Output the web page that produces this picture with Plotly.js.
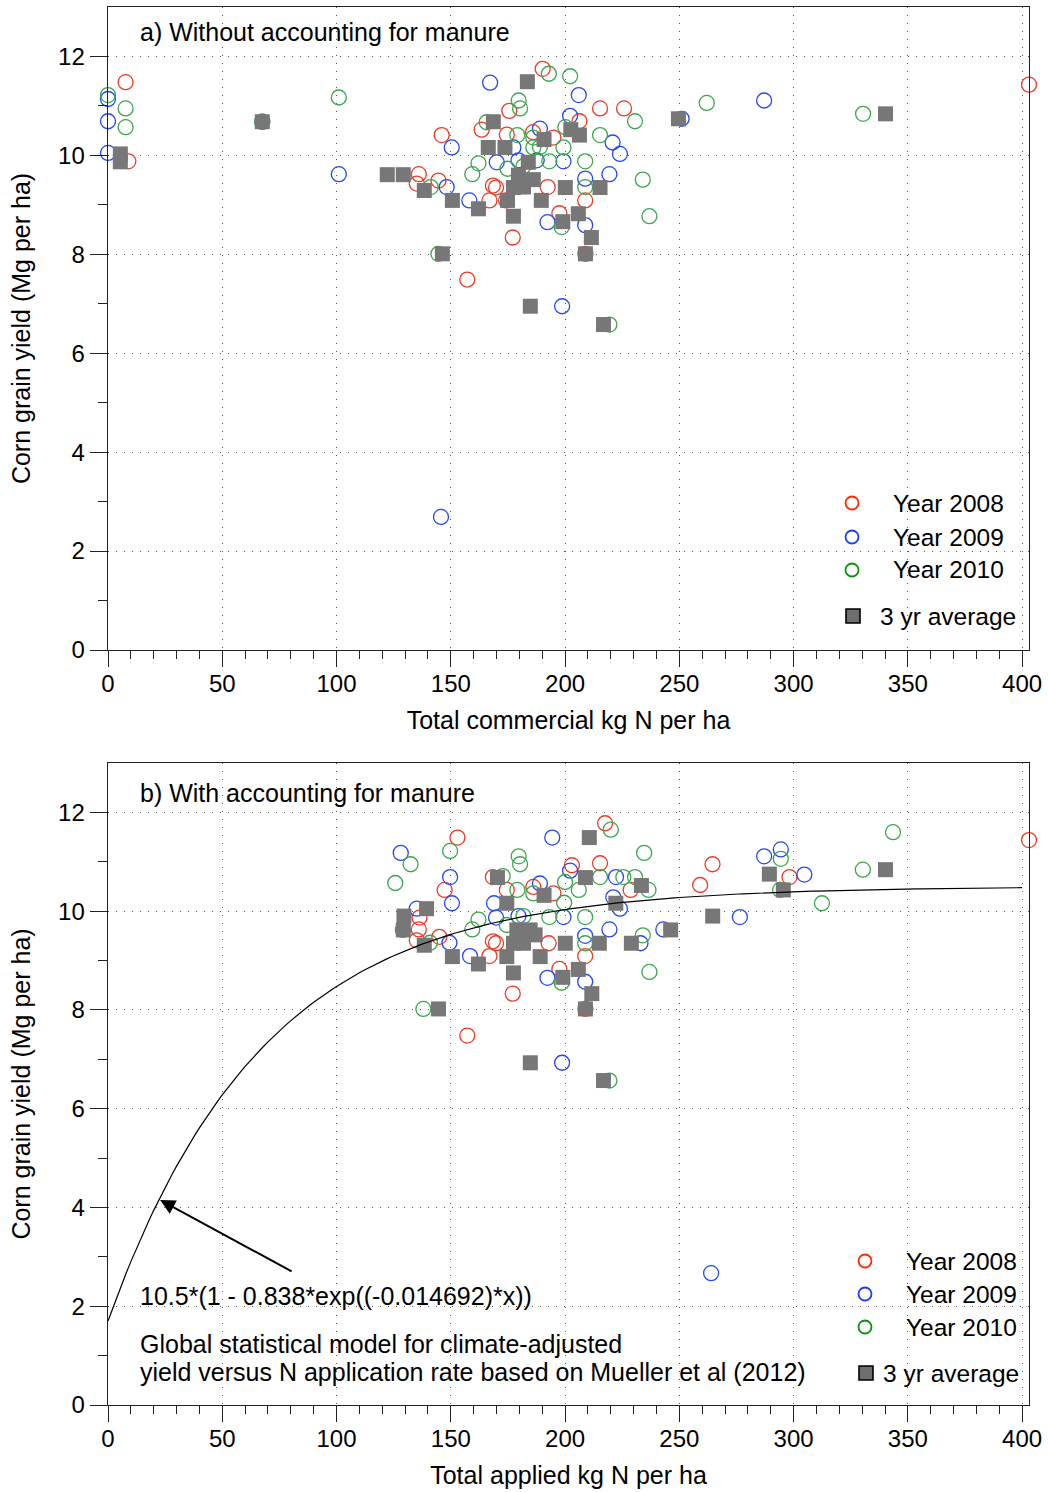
<!DOCTYPE html>
<html>
<head>
<meta charset="utf-8">
<script src="https://cdn.plot.ly/plotly-3.0.1.min.js"></script>
<style>html,body{margin:0;padding:0;background:#fff;}#chart{width:1048px;height:1492px;}</style>
</head>
<body>
<div id="chart"></div>
<script>
// ---------- Panel a: without accounting for manure ----------
const x08a = [7.7, 8.9, 190.2, 175.6, 215.3, 225.8, 206.3, 163.5, 186, 194.9, 146, 174.5, 136, 135.1, 144.6, 166.9, 168.4, 169.8, 174.2, 192.4, 208.8, 197.5, 177.1, 208.9, 157.2, 403];
const y08a = [11.48, 9.88, 11.75, 10.9, 10.95, 10.95, 10.69, 10.52, 10.47, 10.36, 10.41, 10.42, 9.62, 9.43, 9.49, 9.09, 9.39, 9.35, 9.09, 9.36, 9.09, 8.83, 8.34, 8.01, 7.49, 11.43];
const x09a = [0, 0, 0, 101, 167.2, 206, 202.2, 189, 220.8, 224, 150.4, 177.4, 170.1, 179.6, 187.6, 199.3, 219.4, 208.8, 148.2, 158.1, 192.3, 208.8, 198.7, 251, 287.1, 145.7, 67.5];
const y09a = [11.14, 10.69, 10.05, 9.62, 11.47, 11.22, 10.8, 10.54, 10.26, 10.03, 10.16, 10.16, 9.86, 9.9, 9.9, 9.88, 9.62, 9.53, 9.36, 9.09, 8.65, 8.59, 6.95, 10.74, 11.11, 2.69, 10.68];
const x10a = [0, 7.7, 7.7, 101, 192.9, 202.2, 179.7, 180.3, 230.6, 165.7, 200.1, 215.3, 179.1, 186.1, 186.1, 189, 199.3, 162.1, 159.4, 174.8, 181.8, 193.1, 208.8, 234, 208.8, 141.2, 144.6, 198.5, 219.4, 236.9, 262, 330.4, 67.5];
const y10a = [11.22, 10.95, 10.57, 11.17, 11.65, 11.6, 11.11, 10.95, 10.69, 10.67, 10.57, 10.41, 10.41, 10.36, 10.16, 10.17, 10.16, 9.84, 9.62, 9.73, 9.78, 9.88, 9.88, 9.51, 9.36, 9.36, 8.01, 8.55, 6.58, 8.77, 11.06, 10.84, 10.68];
const xAvgA = [5.4, 5.4, 67.5, 122.2, 129.2, 138.4, 146.3, 150.7, 162.1, 166.4, 168.6, 173.7, 174.8, 177.4, 177.4, 179.6, 181.8, 183.5, 183.9, 186.1, 189.6, 190.8, 199, 200.1, 202.5, 205.8, 206.3, 208.9, 211.5, 215.3, 184.8, 216.8, 249.6, 340.2];
const yAvgA = [10.03, 9.87, 10.68, 9.61, 9.61, 9.29, 8.01, 9.09, 8.92, 10.16, 10.68, 10.16, 9.09, 8.77, 9.35, 9.6, 9.36, 11.49, 9.86, 9.51, 9.09, 10.32, 8.66, 9.35, 10.52, 8.82, 10.41, 8.01, 8.34, 9.35, 6.95, 6.58, 10.74, 10.84];

// ---------- Panel b: with accounting for manure ----------
const x08b = [217.5, 152.9, 147.3, 168.4, 203, 215.3, 228.7, 186.1, 194.9, 174.5, 136.3, 136, 135.1, 145, 168.4, 169.8, 166.9, 192.8, 208.8, 197.5, 177.1, 208.9, 157.2, 403, 264.5, 259.1, 298.2];
const y08b = [11.78, 11.49, 10.43, 10.69, 10.93, 10.97, 10.43, 10.49, 10.36, 10.43, 9.87, 9.63, 9.41, 9.48, 9.39, 9.35, 9.09, 9.35, 9.09, 8.83, 8.33, 8.02, 7.48, 11.44, 10.95, 10.53, 10.69];
const x09b = [194.4, 128.1, 149.7, 150.5, 202.2, 222.3, 189, 168.9, 221.1, 224, 135.1, 149.4, 158.4, 169.8, 179.6, 199.3, 208.8, 219.4, 233, 192.3, 208.8, 198.7, 287.1, 294.4, 304.7, 276.5, 243, 263.9];
const y09b = [11.49, 11.18, 10.69, 10.16, 10.82, 10.69, 10.56, 10.16, 10.28, 10.05, 10.05, 9.36, 9.09, 9.87, 9.9, 9.88, 9.5, 9.63, 9.35, 8.65, 8.57, 6.93, 11.11, 11.25, 10.74, 9.88, 9.63, 2.67];
const x10b = [220, 149.7, 132.4, 179.7, 180.3, 125.7, 172.7, 215.3, 225.5, 230.6, 234.6, 200, 206, 186.1, 179.1, 199.6, 129, 140.9, 162.1, 159.4, 174.5, 181.8, 193.1, 208.8, 208.8, 234, 236.9, 138, 219.4, 343.5, 294.4, 330.3, 294.1, 312.4, 236.5, 198.5];
const y10b = [11.65, 11.22, 10.95, 11.11, 10.95, 10.57, 10.71, 10.69, 10.69, 10.69, 11.18, 10.59, 10.43, 10.36, 10.43, 10.17, 9.62, 9.36, 9.83, 9.63, 9.72, 9.9, 9.88, 9.88, 9.35, 9.51, 8.77, 8.02, 6.57, 11.6, 11.06, 10.84, 10.43, 10.16, 10.43, 8.55];
const xAvgB = [210.6, 170.4, 208.9, 233.4, 190.8, 174.5, 222.2, 139.4, 129.5, 129.2, 138.4, 150.7, 162.1, 178.9, 184.7, 186.9, 177.4, 181.8, 189.1, 174.5, 177.4, 200.1, 215, 229, 205.8, 199, 211.7, 208.9, 144.6, 184.8, 216.8, 289.4, 340.2, 295.5, 264.6, 246.2];
const yAvgB = [11.49, 10.68, 10.68, 10.52, 10.32, 10.16, 10.16, 10.05, 9.9, 9.62, 9.31, 9.08, 8.93, 9.62, 9.62, 9.52, 9.35, 9.35, 9.08, 9.08, 8.75, 9.35, 9.35, 9.35, 8.82, 8.66, 8.33, 8.02, 8.02, 6.93, 6.57, 10.75, 10.84, 10.43, 9.9, 9.62];

// Model curve parameters printed on the chart: 10.5*(1 - 0.838*exp((-0.014692)*x))
const modelA = 10.5, modelB = 0.838, modelK = -0.014692;
const modelX = [];
for (let v = 0; v <= 400; v += 2) modelX.push(v);
const modelY = modelX.map(v => modelA * (1 - modelB * Math.exp(modelK * v)));

const legendLabels = ['Year 2008', 'Year 2009', 'Year 2010', '3 yr average'];

const RED = '#f03a24', BLUE = '#2448f2', GREEN = '#3aa64e', GRAY = '#777777';
const LEG_RED = '#ff2a00', LEG_BLUE = '#1a3cff', LEG_GREEN = '#0a900a';
const FONT = 'Liberation Sans, Arial, Helvetica, sans-serif';

function circ(x, y, color, xa, ya) {
  return {type: 'scatter', mode: 'markers', x: x, y: y, xaxis: xa, yaxis: ya, showlegend: false,
    cliponaxis: false, hoverinfo: 'x+y',
    marker: {symbol: 'circle-open', size: 15, color: color, line: {width: 1.3, color: color}}};
}
function sq(x, y, xa, ya) {
  return {type: 'scatter', mode: 'markers', x: x, y: y, xaxis: xa, yaxis: ya, showlegend: false,
    cliponaxis: false, hoverinfo: 'x+y',
    marker: {symbol: 'square', size: 15, color: GRAY, line: {width: 0}}};
}

const traces = [
  circ(x08a, y08a, RED, 'x', 'y'),
  circ(x09a, y09a, BLUE, 'x', 'y'),
  circ(x10a, y10a, GREEN, 'x', 'y'),
  sq(xAvgA, yAvgA, 'x', 'y'),
  circ(x08b, y08b, RED, 'x2', 'y2'),
  circ(x09b, y09b, BLUE, 'x2', 'y2'),
  circ(x10b, y10b, GREEN, 'x2', 'y2'),
  sq(xAvgB, yAvgB, 'x2', 'y2'),
  {type: 'scatter', mode: 'lines', x: modelX, y: modelY, xaxis: 'x2', yaxis: 'y2', showlegend: false,
   line: {color: '#000', width: 1.2}, hoverinfo: 'skip'}
];

function xax(title, anchor) {
  return {
    range: [0, 403], anchor: anchor, domain: [0, 1],
    tickmode: 'linear', tick0: 0, dtick: 50, ticks: 'outside', ticklen: 16, tickwidth: 1, tickcolor: '#222',
    ticklabelstandoff: -4,
    minor: {dtick: 10, tick0: 0, ticks: 'outside', ticklen: 8, tickwidth: 1, tickcolor: '#222', showgrid: false},
    showgrid: true, gridcolor: '#555', gridwidth: 1, griddash: '1px,7px',
    zeroline: false, showline: true, linecolor: '#222', linewidth: 1.4, mirror: true,
    tickfont: {family: FONT, size: 24, color: '#000'},
    title: {text: title, font: {family: FONT, size: 25, color: '#000'}, standoff: 15}
  };
}
function yax(domain, anchor) {
  return {
    range: [0, 13], anchor: anchor, domain: domain,
    tickmode: 'array', tickvals: [0, 2, 4, 6, 8, 10, 12], ticks: 'outside', ticklen: 17, tickwidth: 1, tickcolor: '#222',
    minor: {tickvals: [1, 3, 5, 7, 9, 11], ticks: 'outside', ticklen: 9, tickwidth: 1, tickcolor: '#222', showgrid: false},
    showgrid: true, gridcolor: '#555', gridwidth: 1, griddash: '1px,7px',
    zeroline: false, showline: true, linecolor: '#222', linewidth: 1.4, mirror: true,
    tickfont: {family: FONT, size: 24, color: '#000'},
    title: {text: 'Corn grain yield (Mg per ha)', font: {family: FONT, size: 25, color: '#000'}, standoff: 20}
  };
}

// paper coordinates: plot area spans pixel y 7..1405 (height 1398), x 108..1029 (width 921)
const PH = 1398, PW = 921;
function py(p) { return (1405 - p) / PH; }
function px(p) { return (p - 108) / PW; }

function note(text, yPix) {
  return {xref: 'paper', yref: 'paper', x: px(138), y: py(yPix), xanchor: 'left', yanchor: 'middle', showarrow: false,
    text: text, font: {family: FONT, size: 25, color: '#000'}};
}

const annotations = [
  note('a) Without accounting for manure', 32),
  note('b) With accounting for manure', 793),
  note('10.5*(1 - 0.838*exp((-0.014692)*x))', 1296),
  note('Global statistical model for climate-adjusted', 1344),
  note('yield versus N application rate based on Mueller et al (2012)', 1372),
  // arrow pointing to the curve
  {xref: 'x2', yref: 'y2', x: 22.8, y: 4.15, axref: 'x2', ayref: 'y2', ax: 81, ay: 2.69, text: '',
   showarrow: true, arrowhead: 2, arrowsize: 1.5, arrowwidth: 2, arrowcolor: '#000'}
];

const shapes = [];
function legendBlock(cx, textX, rowsY, avgCx, avgTextX, avgY) {
  const cols = [LEG_RED, LEG_BLUE, LEG_GREEN];
  for (let i = 0; i < 3; i++) {
    shapes.push({type: 'circle', xref: 'paper', yref: 'paper', xsizemode: 'pixel', ysizemode: 'pixel',
      xanchor: px(cx), yanchor: py(rowsY[i]), x0: -6.5, x1: 6.5, y0: -6.5, y1: 6.5,
      line: {color: cols[i], width: 1.8}, fillcolor: 'rgba(0,0,0,0)'});
    annotations.push({xref: 'paper', yref: 'paper', x: px(textX), y: py(rowsY[i]), xanchor: 'left', yanchor: 'middle',
      showarrow: false, text: legendLabels[i], font: {family: FONT, size: 24.5, color: '#000'}});
  }
  shapes.push({type: 'rect', xref: 'paper', yref: 'paper', xsizemode: 'pixel', ysizemode: 'pixel',
    xanchor: px(avgCx), yanchor: py(avgY), x0: -7, x1: 7, y0: -7, y1: 7,
    line: {color: '#000', width: 1.6}, fillcolor: '#6e6e6e'});
  annotations.push({xref: 'paper', yref: 'paper', x: px(avgTextX), y: py(avgY), xanchor: 'left', yanchor: 'middle',
    showarrow: false, text: legendLabels[3], font: {family: FONT, size: 24.5, color: '#000'}});
}
legendBlock(852, 891, [503, 537, 570], 853, 878, 616);
legendBlock(865, 904, [1261, 1294, 1327], 866, 881, 1373);

const layout = {
  width: 1048, height: 1492,
  margin: {l: 108, r: 19, t: 7, b: 87, pad: 0},
  paper_bgcolor: '#fff', plot_bgcolor: '#fff',
  showlegend: false,
  font: {family: FONT, size: 24, color: '#000'},
  xaxis: xax('Total commercial kg N per ha', 'y'),
  yaxis: yax([py(650), 1], 'x'),
  xaxis2: xax('Total applied kg N per ha', 'y2'),
  yaxis2: yax([0, py(763)], 'x2'),
  annotations: annotations,
  shapes: shapes
};

Plotly.newPlot('chart', traces, layout, {displayModeBar: false, staticPlot: true});
</script>
</body>
</html>
